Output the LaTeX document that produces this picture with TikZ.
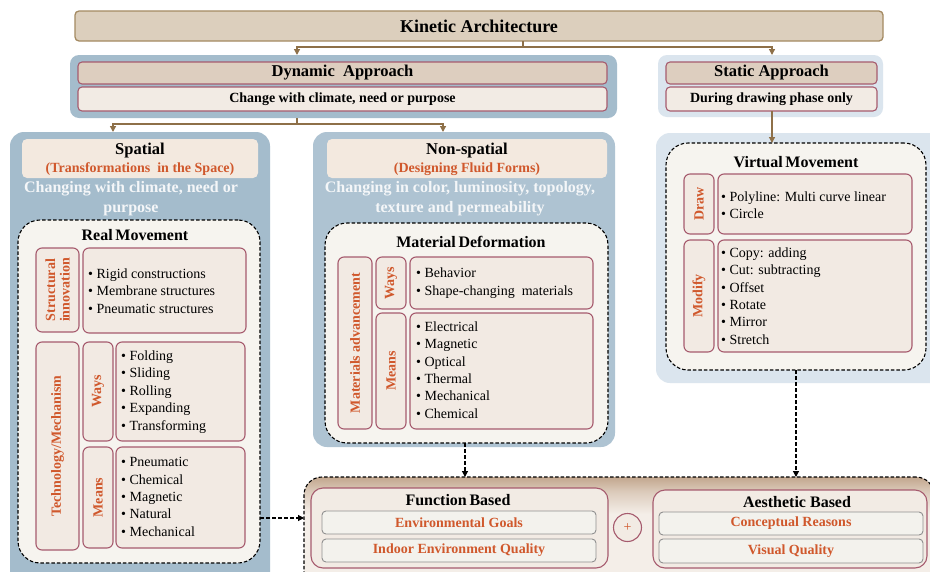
\documentclass[tikz,border=0pt]{standalone}
\usepackage{fontspec}
\setmainfont{Liberation Serif}
\usetikzlibrary{arrows.meta}

\definecolor{brownline}{HTML}{8E7048}
\definecolor{titlefill}{HTML}{DCCFBD}
\definecolor{titledraw}{HTML}{A48A62}
\definecolor{steelbg}{HTML}{A4BCCC}
\definecolor{steelbgb}{HTML}{AEC3D2}
\definecolor{palebg}{HTML}{DBE5EE}
\definecolor{appfill}{HTML}{DDCEBF}
\definecolor{rose}{HTML}{A65B6E}
\definecolor{subfill}{HTML}{F2EBE4}
\definecolor{hdrfill}{HTML}{F3E9DF}
\definecolor{dashfill}{HTML}{F6F4EF}
\definecolor{lblfill}{HTML}{F2EAE3}
\definecolor{accent}{HTML}{D0582C}
\definecolor{softwhite}{HTML}{F4F6F8}
\definecolor{greyedge}{HTML}{8F8F8F}
\definecolor{greyfill}{HTML}{F3F2ED}
\definecolor{shadetop}{HTML}{C2A68E}
\definecolor{shademid}{HTML}{DCCBBB}
\definecolor{shadebot}{HTML}{F4EEE8}

% pale body, turning brown towards the upper edge (path spans 25bp..75bp)
\pgfdeclareverticalshading{outcomeshade}{100bp}{color(0bp)=(shadebot); color(60bp)=(shadebot); color(69bp)=(shademid); color(75bp)=(shadetop); color(100bp)=(shadetop)}

% box given by its corners (x1,y1) and (x2,y2)
\newcommand\pbox[7]{%
  \pgfmathsetmacro\pcx{(#3+#5)/2}%
  \pgfmathsetmacro\pcy{(#4+#6)/2}%
  \pgfmathsetmacro\pw{#5-#3}%
  \pgfmathsetmacro\ph{#6-#4}%
  \node[#1,minimum width=\pw pt,minimum height=\ph pt] (#2) at (\pcx,\pcy) {#7};}

\tikzset{
  basebox/.style={rectangle,inner sep=0pt,outer sep=0pt},
  titlebox/.style={basebox,fill=titlefill,draw=titledraw,line width=1.3pt,rounded corners=4pt,
    font=\fontsize{18}{21}\selectfont\bfseries},
  groupbg/.style={basebox,fill=#1,rounded corners=9pt},
  panelbg/.style={basebox,fill=#1,rounded corners=14pt},
  appbox/.style={basebox,fill=appfill,draw=rose,line width=1.1pt,rounded corners=4pt,
    font=\fontsize{16.5}{19}\selectfont\bfseries},
  subbox/.style={basebox,fill=subfill,draw=rose,line width=1.1pt,rounded corners=4pt,
    font=\fontsize{14}{16}\selectfont\bfseries},
  hdrbox/.style={basebox,fill=hdrfill,rounded corners=5pt},
  dashbox/.style={basebox,fill=dashfill,draw=black,line width=1.1pt,dash pattern=on 3.5pt off 2pt,rounded corners=22pt},
  lblbox/.style={basebox,fill=lblfill,draw=rose,line width=1.1pt,rounded corners=6pt},
  lbltext/.style={rotate=90,align=center,inner sep=0pt,text=accent,font=\fontsize{14}{14.5}\selectfont\bfseries},
  hdrtext/.style={inner sep=0pt,font=\fontsize{16.5}{19}\selectfont\bfseries},
  subtitle/.style={inner sep=0pt,text=accent,font=\fontsize{14}{16}\selectfont\bfseries},
  whitetext/.style={inner sep=0pt,align=center,text=softwhite,font=\fontsize{16}{20}\selectfont\bfseries},
  sectitle/.style={inner sep=0pt,font=\fontsize{16}{19}\selectfont\bfseries},
  bullets/.style={inner sep=0pt,align=left,anchor=west,font=\fontsize{14}{17.4}\selectfont},
  brline/.style={draw=brownline,line width=1.3pt},
  brarrow/.style={brline,-{Triangle[width=6pt,length=6pt]}},
  darrow/.style={draw=black,line width=1.2pt,dash pattern=on 4pt off 2pt,-{Triangle[width=6pt,length=6pt]}},
  goalbox/.style={basebox,fill=greyfill,draw=greyedge,line width=0.9pt,rounded corners=4pt,
    text=accent,font=\fontsize{14}{16}\selectfont\bfseries},
  basisbox/.style={basebox,fill=subfill,draw=rose,line width=1.1pt,rounded corners=12pt},
  outcomebox/.style={basebox,shade,shading=outcomeshade,draw=black,line width=1.1pt,dash pattern=on 3.5pt off 2pt,rounded corners=18pt},
}

\begin{document}
\begin{tikzpicture}[x=1pt,y=-1pt]
\useasboundingbox (0,0) rectangle (930,571);
\clip (0,0) rectangle (930,571);
\fill[white] (0,0) rectangle (930,571);

% ---------- top level ----------
\pbox{titlebox}{title}{75}{11}{883}{41}{Kinetic Architecture}

\pbox{groupbg=steelbg}{dyngrp}{70}{55}{617}{118}{}
\pbox{appbox}{dynapp}{78}{62}{607}{84}{Dynamic\ \ Approach}
\pbox{subbox}{dynsub}{78}{87}{607}{111}{Change with climate, need or purpose}

\pbox{groupbg=palebg}{stgrp}{658}{55}{883}{117}{}
\pbox{appbox}{stapp}{666}{62}{877}{84}{Static Approach}
\pbox{subbox}{stsub}{666}{87}{877}{111}{During drawing phase only}

% ---------- spatial panel ----------
\pbox{panelbg=steelbg}{spbg}{10}{132}{270}{590}{}
\pbox{hdrbox}{sphdr}{22}{139}{258}{178}{}
\node[hdrtext] (sptitle) at (140,151) {Spatial};
\node[subtitle] (spsub) at (140,169) {(Transformations\ \ in the Space)};
\node[whitetext] (spnote) at (131,199) {Changing with climate, need or\\purpose};
\pbox{dashbox}{rdash}{18}{220}{260}{563}{}
\node[sectitle] (rtitle) at (135,235) {Real\,Movement};

\pbox{lblbox}{stlbl}{36}{248}{79}{332}{}
\node[lbltext] (stlbltext) at (stlbl) {Structural\\innovation};
\pbox{lblbox}{stcon}{83}{248}{246}{333}{}
\node[bullets] (stlist) at (88,291) {• Rigid constructions\\• Membrane structures\\• Pneumatic structures};

\pbox{lblbox}{tmlbl}{36}{342}{79}{550}{}
\node[lbltext] (tmlbltext) at (tmlbl) {Technology/Mechanism};
\pbox{lblbox}{swlbl}{83}{342}{113}{441}{}
\node[lbltext] (swlbltext) at (swlbl) {Ways};
\pbox{lblbox}{swcon}{116}{342}{245}{441}{}
\node[bullets] (swlist) at (121,392) {• Folding\\• Sliding\\• Rolling\\• Expanding\\• Transforming};
\pbox{lblbox}{smlbl}{83}{447}{113}{548}{}
\node[lbltext] (smlbltext) at (smlbl) {Means};
\pbox{lblbox}{smcon}{116}{447}{245}{548}{}
\node[bullets] (smlist) at (121,497) {• Pneumatic\\• Chemical\\• Magnetic\\• Natural\\• Mechanical};

% ---------- non-spatial panel ----------
\pbox{panelbg=steelbgb}{nsbg}{313}{132}{615}{447}{}
\pbox{hdrbox}{nshdr}{327}{139}{607}{178}{}
\node[hdrtext] (nstitle) at (467,151) {Non-spatial};
\node[subtitle] (nssub) at (467,169) {(Designing Fluid Forms)};
\node[whitetext] (nsnote) at (460,199) {Changing in color, luminosity, topology,\\texture and permeability};
\pbox{dashbox}{mdash}{325}{223}{608}{443}{}
\node[sectitle] (mtitle) at (471,242) {Material\,Deformation};

\pbox{lblbox}{malbl}{338}{257}{372}{429}{}
\node[lbltext] (malbltext) at (malbl) {Materials advancement};
\pbox{lblbox}{mwlbl}{376}{257}{406}{309}{}
\node[lbltext] (mwlbltext) at (mwlbl) {Ways};
\pbox{lblbox}{mwcon}{410}{257}{593}{309}{}
\node[bullets] (mwlist) at (416,283) {• Behavior\\• Shape-changing\ \ materials};
\pbox{lblbox}{mmlbl}{376}{313}{406}{429}{}
\node[lbltext] (mmlbltext) at (mmlbl) {Means};
\pbox{lblbox}{mmcon}{410}{313}{593}{429}{}
\node[bullets] (mmlist) at (416,370) {• Electrical\\• Magnetic\\• Optical\\• Thermal\\• Mechanical\\• Chemical};

% ---------- virtual movement panel ----------
\pbox{panelbg=palebg}{vbg}{656}{133}{945}{383}{}
\pbox{dashbox}{vdash}{666}{143}{926}{370}{}
\node[sectitle] (vtitle) at (796,162) {Virtual\,Movement};
\pbox{lblbox}{vdlbl}{684}{174}{714}{234}{}
\node[lbltext] (vdlbltext) at (vdlbl) {Draw};
\pbox{lblbox}{vdcon}{718}{174}{912}{234}{}
\node[bullets] (vdlist) at (721,205) {• Polyline: Multi curve linear\\• Circle};
\pbox{lblbox}{vmlbl}{684}{240}{714}{352}{}
\node[lbltext] (vmlbltext) at (vmlbl) {Modify};
\pbox{lblbox}{vmcon}{718}{240}{912}{352}{}
\node[bullets] (vmlist) at (721,296) {• Copy: adding\\• Cut: subtracting\\• Offset\\• Rotate\\• Mirror\\• Stretch};

% ---------- outcome area ----------
\pbox{outcomebox}{botbox}{304}{477}{934}{600}{}
\pbox{basisbox}{fbox}{311}{488}{608}{568}{}
\node[sectitle] (ftitle) at (458,500) {Function\,Based};
\pbox{goalbox}{fgoal}{322}{511}{596}{534}{Environmental Goals}
\pbox{goalbox}{fieq}{322}{539}{596}{562}{Indoor Environment Quality}
\node[circle,draw=rose,line width=1.1pt,fill=subfill,minimum size=28pt,inner sep=0pt,
  text=accent,font=\fontsize{14}{14}\selectfont] (plus) at (627.5,527.5) {+};
\pbox{basisbox}{abox}{653}{490}{927}{568}{}
\node[sectitle] (atitle) at (797,502) {Aesthetic Based};
\pbox{goalbox}{acon}{659}{512}{923}{535}{Conceptual Reasons}
\pbox{goalbox}{avis}{659}{539}{923}{563}{Visual Quality}

% ---------- connectors ----------
\coordinate (tsplit) at (523,47);
\coordinate (dynx) at (297,47);
\coordinate (stx) at (772,47);
\draw[brarrow] (title.south -| tsplit) |- (dynx) -- (dynx |- dyngrp.north);
\draw[brarrow] (tsplit) -| (stgrp.north -| stx);

\coordinate (dsplit) at (297,124);
\coordinate (spx) at (113,124);
\coordinate (nsx) at (443,124);
\draw[brarrow] (dyngrp.south -| dsplit) |- (spx) -- (spx |- spbg.north);
\draw[brarrow] (dsplit) -| (nsbg.north -| nsx);

\draw[brarrow] (stsub.south -| stx) -- (vdash.north -| stx);

\coordinate (leftrow) at (0,518);
\coordinate (midcol) at (465,0);
\coordinate (rightcol) at (796,0);
\draw[darrow] (rdash.east |- leftrow) -- (botbox.west |- leftrow);
\draw[darrow] (mdash.south -| midcol) -- (botbox.north -| midcol);
\draw[darrow] (vdash.south -| rightcol) -- (botbox.north -| rightcol);
\end{tikzpicture}
\end{document}
